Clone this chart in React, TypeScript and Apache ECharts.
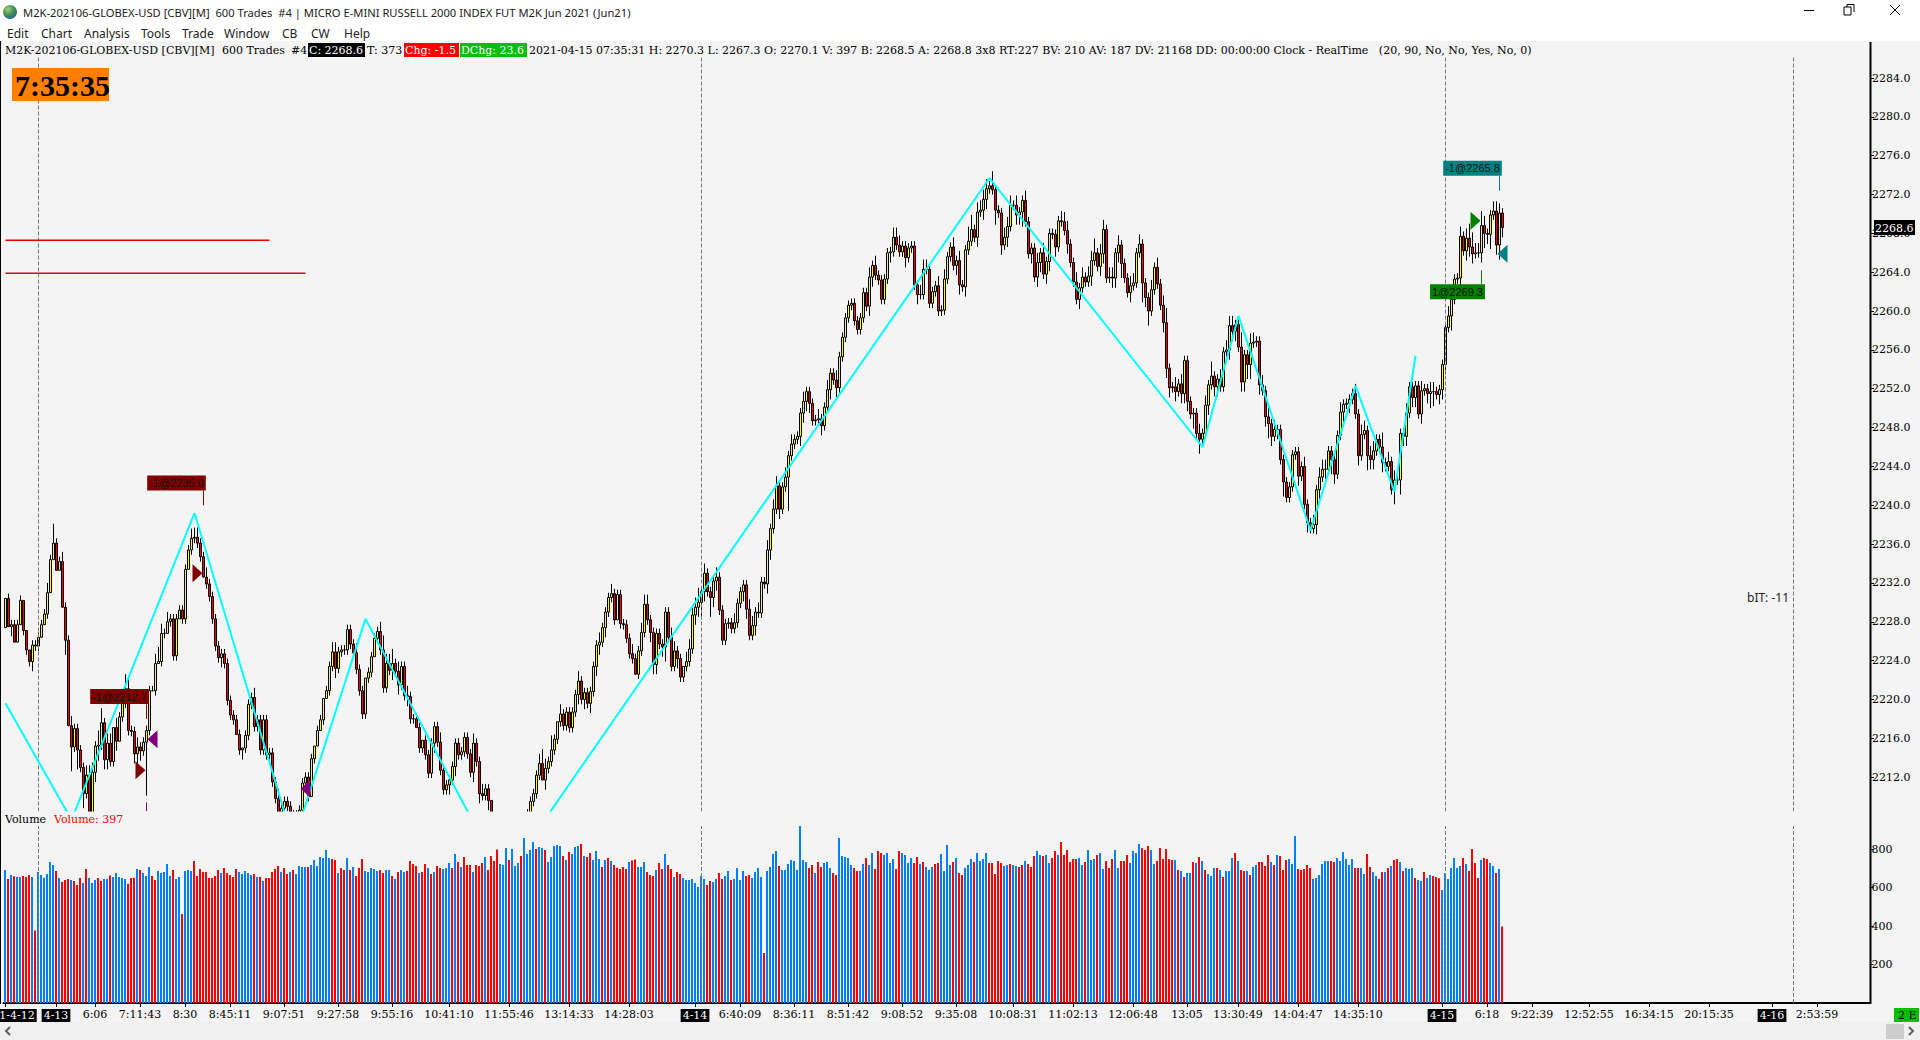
import React, { useEffect, useRef } from "react";
import * as echarts from "echarts";

const firstOpen = 2227.4;
const closes = [
2230.4,2227.5,2227.7,2225.9,2227.7,2230.2,2227.1,2225.1,2223.9,2225.6,
2225.5,2226.4,2227.7,2228.8,2231.0,2234.4,2236.1,2233.3,2234.2,2229.5,
2226.1,2217.3,2215.1,2217.0,2214.8,2213.0,2210.3,2212.2,2206.7,2212.5,
2215.2,2215.3,2217.6,2213.8,2215.5,2213.6,2217.1,2215.7,2218.2,2219.6,
2221.1,2216.8,2216.7,2214.4,2215.1,2214.7,2215.6,2216.8,2220.9,2220.9,
2223.7,2223.9,2226.8,2226.8,2228.0,2228.3,2224.5,2228.3,2229.2,2228.3,
2233.4,2235.4,2236.6,2236.7,2236.1,2234.7,2232.6,2231.9,2230.6,2228.3,
2225.5,2224.3,2224.7,2223.7,2219.9,2218.4,2217.9,2216.4,2214.8,2215.0,
2216.3,2219.5,2220.2,2217.2,2217.9,2214.8,2217.9,2214.3,2214.5,2211.5,
2209.8,2208.4,2208.8,2209.5,2209.0,2208.1,2207.4,2208.1,2208.6,2211.4,
2212.0,2210.0,2213.9,2215.2,2216.8,2217.9,2220.1,2220.9,2223.4,2224.9,
2223.2,2224.9,2225.1,2225.1,2227.2,2225.7,2224.8,2223.1,2220.9,2218.5,
2222.2,2222.8,2224.4,2226.3,2227.0,2225.1,2221.2,2223.7,2223.0,2223.7,
2222.9,2221.5,2223.4,2220.4,2220.3,2218.0,2218.0,2217.1,2215.0,2215.8,
2214.3,2212.4,2215.5,2217.2,2215.6,2212.7,2210.7,2211.2,2211.7,2213.1,
2215.5,2214.3,2214.6,2216.1,2214.4,2212.5,2215.5,2213.6,2210.3,2210.1,
2210.8,2209.6,2207.4,2206.5,2205.8,2205.0,2204.6,2205.0,2205.5,2206.2,
2206.6,2207.0,2207.2,2207.5,2208.2,2209.5,2210.3,2212.2,2213.4,2211.7,
2212.9,2213.6,2214.8,2215.9,2217.7,2218.5,2217.3,2218.7,2217.1,2218.7,
2220.5,2221.9,2220.0,2220.7,2219.6,2220.8,2223.4,2225.6,2225.9,2227.4,
2229.0,2230.5,2230.9,2228.2,2230.8,2227.8,2227.7,2226.3,2224.7,2224.2,
2222.6,2225.0,2226.9,2229.8,2228.2,2226.9,2223.6,2226.8,2225.7,2225.4,
2229.0,2226.4,2223.4,2225.0,2224.2,2222.3,2223.4,2223.9,2225.2,2228.7,
2229.5,2230.0,2231.1,2233.0,2231.1,2230.5,2232.2,2232.6,2229.2,2226.1,
2227.8,2227.9,2227.3,2227.9,2229.9,2231.1,2231.8,2229.3,2226.6,2227.6,
2229.0,2228.9,2232.1,2231.9,2235.4,2237.6,2239.6,2242.0,2239.6,2241.9,
2242.9,2245.1,2246.3,2246.8,2247.1,2249.5,2250.7,2251.7,2250.5,2248.7,
2248.8,2248.9,2248.2,2250.1,2251.9,2253.6,2252.9,2252.1,2255.3,2257.3,
2259.3,2260.6,2260.8,2259.0,2258.1,2259.3,2261.9,2260.5,2263.5,2264.7,
2263.7,2263.2,2261.2,2263.3,2266.0,2266.1,2267.6,2266.8,2266.1,2266.7,
2265.5,2266.5,2266.7,2262.7,2261.7,2261.7,2264.3,2264.3,2260.8,2262.0,
2262.6,2260.0,2260.1,2263.3,2265.6,2266.6,2264.7,2265.2,2262.7,2262.5,
2266.3,2267.2,2268.4,2267.6,2270.2,2270.4,2271.5,2272.6,2272.9,2272.5,
2270.4,2270.1,2266.8,2267.6,2268.7,2270.9,2270.9,2269.9,2270.2,2271.4,
2269.2,2265.9,2266.5,2263.5,2265.0,2266.0,2263.8,2265.1,2268.0,2267.9,
2266.6,2269.3,2269.2,2268.3,2266.9,2265.0,2263.0,2261.2,2262.4,2263.5,
2263.0,2263.6,2265.2,2266.0,2264.6,2265.9,2268.4,2263.4,2263.5,2263.4,
2266.0,2266.8,2264.9,2263.4,2261.9,2262.6,2262.9,2266.0,2266.9,2262.9,
2261.4,2260.0,2262.2,2264.5,2262.8,2260.6,2258.8,2254.1,2252.1,2252.2,
2251.7,2252.5,2251.5,2254.9,2250.7,2249.4,2249.5,2247.4,2246.8,2247.4,
2250.3,2252.4,2253.3,2252.2,2253.0,2252.2,2255.8,2256.0,2258.5,2257.9,
2258.6,2256.3,2252.7,2255.5,2254.5,2256.7,2256.8,2256.9,2252.4,2251.8,
2249.1,2248.4,2247.1,2247.8,2247.8,2244.7,2242.4,2240.8,2241.9,2245.2,
2245.5,2243.0,2244.0,2240.1,2238.2,2237.6,2238.0,2241.6,2242.9,2243.7,
2243.7,2245.6,2244.7,2243.2,2247.2,2249.6,2250.4,2250.5,2250.9,2251.5,
2249.4,2245.1,2247.3,2247.7,2245.1,2244.7,2245.6,2246.8,2246.0,2244.4,
2244.0,2244.5,2241.6,2242.6,2242.6,2247.4,2247.1,2249.5,2252.2,2251.1,
2252.3,2249.4,2251.8,2252.0,2251.5,2251.7,2251.7,2251.4,2251.9,2254.5,
2258.3,2259.5,2261.2,2263.3,2263.4,2267.7,2266.2,2267.5,2266.6,2265.9,
2266.0,2266.0,2268.8,2268.0,2267.9,2269.9,2270.3,2266.8,2270.1,2268.6,
];
// Wick lengths above and below the body, in half points.
const upperWicks = [
0,1,1,1,1,1,0,0,0,1, 1,1,1,1,2,1,4,1,1,2, 1,1,2,1,1,1,1,2,2,2, 1,3,3,1,2,2,0,2,1,2,
3,2,1,1,2,1,1,1,1,1, 2,3,2,1,2,1,1,1,1,1, 1,1,2,2,2,1,1,2,1,1, 1,1,1,1,1,1,1,1,1,0,
1,1,1,2,1,1,1,1,1,1, 1,2,1,1,1,1,1,1,1,1, 1,1,1,0,1,1,0,1,1,2, 2,1,1,1,1,1,1,2,1,1,
0,1,1,1,1,2,3,2,2,3, 1,2,1,1,2,1,1,1,1,0, 1,1,1,1,1,2,1,1,1,1, 1,1,1,1,1,1,2,1,1,2,
1,1,0,0,1,1,1,2,1,2, 1,1,1,1,1,1,1,1,2,3, 2,1,3,1,0,2,1,1,1,1, 1,2,1,1,1,1,1,1,2,1,
1,1,2,1,1,1,1,1,1,2, 1,1,2,2,2,1,1,1,1,1, 1,1,2,2,1,1,0,2,2,2, 2,3,1,2,1,1,1,2,1,1,
1,1,1,2,1,1,1,1,2,2, 1,2,1,1,2,1,2,2,1,1, 2,1,2,1,1,1,2,1,1,1, 1,2,1,1,2,1,1,2,1,1,
1,1,1,1,1,1,1,1,2,1, 2,1,1,1,1,1,2,2,2,1, 1,1,1,1,1,2,2,2,1,1, 1,2,1,2,1,1,2,1,2,1,
1,3,3,1,2,2,2,2,1,3, 1,1,1,2,2,2,1,2,1,1, 2,1,1,1,2,1,2,1,1,1, 1,1,2,2,2,1,1,2,1,2,
1,2,2,3,1,2,2,1,2,2, 1,2,1,1,1,2,2,1,2,1, 1,1,2,1,2,1,2,3,1,1, 2,1,2,1,1,1,1,1,2,1,
2,1,3,1,1,2,1,2,2,2, 1,1,3,1,1,2,2,1,1,2, 1,2,1,2,1,1,1,1,1,1, 1,1,1,2,1,1,2,1,2,2,
2,1,1,1,1,2,1,1,1,1, 2,1,2,2,1,2,2,1,1,3, 1,2,1,2,1,1,1,2,1,1, 1,1,2,1,1,2,2,1,1,1,
1,2,2,1,1,2,1,2,3,3, 2,2,3,2,1,1,2,2,2,1, 1,1,1,1,1,2,1,1,1,1, 2,2,3,1,3,2,3,3,2,2,
];
const lowerWicks = [
0,0,2,0,0,0,1,1,1,2, 1,1,0,0,1,0,0,0,0,0, 3,0,5,1,4,1,3,1,1,0, 2,3,1,2,2,1,1,2,0,1,
1,1,1,2,2,2,1,11,1,0, 1,0,1,1,0,1,1,1,0,1, 1,0,1,1,1,1,0,1,1,1, 1,1,2,1,1,1,1,0,1,2,
1,1,1,1,1,1,1,1,1,1, 1,1,1,1,1,1,1,1,1,1, 1,1,0,1,0,0,1,0,1,1, 2,1,1,1,1,1,1,1,1,1,
1,1,1,0,1,1,1,1,1,2, 1,2,1,1,2,1,1,0,1,1, 1,1,1,2,1,1,1,1,2,1, 2,1,1,1,1,1,2,1,2,1,
1,2,1,1,1,1,1,1,1,1, 1,1,1,1,1,1,1,1,1,0, 2,1,1,1,1,1,1,1,1,1, 1,2,1,2,1,2,1,2,2,1,
2,1,1,1,0,1,1,1,1,1, 0,1,1,1,1,2,2,2,1,2, 3,1,1,1,2,1,1,1,1,1, 2,2,3,2,1,4,2,2,1,1,
1,1,1,1,1,1,2,2,1,1, 2,1,1,1,2,2,1,1,2,1, 1,7,1,1,1,2,2,2,2,1, 1,1,2,1,1,2,1,2,1,1,
1,1,1,1,1,1,1,1,2,2, 1,1,1,1,1,2,1,1,1,1, 2,1,1,1,2,1,1,1,1,1, 1,1,1,1,1,1,1,2,2,1,
2,1,1,1,2,1,2,2,1,1, 3,1,2,1,2,1,1,2,2,3, 1,1,2,1,2,2,1,2,2,1, 2,1,1,1,2,1,1,1,2,1,
1,1,2,1,1,2,2,1,1,2, 2,2,3,1,1,2,1,1,1,4, 2,3,1,1,1,1,2,2,2,1, 2,1,2,2,2,1,3,1,3,1,
1,2,1,2,2,1,1,1,2,2, 2,1,2,2,3,3,1,1,2,1, 2,3,2,1,2,1,3,1,1,1, 1,2,1,1,2,1,1,2,2,1,
2,1,3,2,1,1,2,1,2,1, 1,2,1,1,3,2,2,1,1,2, 1,1,1,3,1,3,2,2,1,2, 2,1,2,1,2,3,3,1,2,2,
2,1,3,1,1,2,1,2,2,2, 1,1,2,3,2,3,1,2,3,2, 3,3,2,1,1,1,1,1,1,1, 2,2,2,1,3,3,2,3,3,3,
];
// Sign marks the bar's colour: positive blue, negative red.
const signedVolumes = [
691,-644,665,-658,655,655,-660,-655,-665,655,
-376,680,665,651,670,732,717,-686,649,-628,
-639,-644,639,-634,-613,-649,623,-696,649,623,
639,-649,-634,644,644,-663,655,675,655,649,
644,-620,-650,-651,696,-691,675,660,706,-660,
-639,686,675,680,722,660,-691,644,655,-462,
686,691,686,-738,-660,-696,-680,-680,-649,-649,
-660,-691,675,-701,-675,-665,-655,-696,680,670,
686,675,665,-670,655,-655,634,-649,-649,-680,
-696,-712,680,-701,-670,680,-691,670,712,706,
706,-706,717,743,712,758,753,795,753,-748,
-743,675,-701,-691,753,-691,706,-660,-701,-748,
686,680,701,696,686,-691,-675,691,691,-660,
644,-680,691,680,-686,-738,-722,-712,675,-680,
-722,701,-670,680,-712,-701,696,701,727,-701,
774,-732,706,-758,-717,-717,680,-717,-712,-727,
758,-691,-764,-738,-798,722,717,805,-743,800,
712,727,-764,857,774,795,836,-800,810,805,
-795,732,758,815,821,815,-764,743,-784,774,
810,815,-826,764,-758,-779,743,789,748,-706,
743,-753,738,-717,-701,-696,-706,-696,732,-740,
-745,706,706,732,-680,-665,-660,691,-727,-696,
774,-717,-696,655,-680,-670,649,639,639,644,
623,603,660,644,-613,-634,628,644,-675,-644,
660,686,-639,644,701,639,686,-660,-665,649,
680,701,655,-260,686,706,774,790,-712,691,
691,722,743,738,691,920,743,732,-701,-717,
675,-732,-706,727,732,701,-675,-665,857,764,
758,753,717,-701,-686,686,722,-753,717,779,
-696,-790,-779,769,779,727,748,-696,-790,779,
769,727,753,-727,-758,722,-732,706,691,706,
-722,-727,774,686,821,717,-732,753,-675,-665,
701,717,748,-732,779,738,748,779,-727,-727,
-670,-738,-727,712,717,-722,717,712,-706,-717,
738,-722,-706,-764,790,769,-764,769,727,-753,
-790,769,-836,-769,-795,-732,-748,-748,753,717,
-732,795,743,748,-769,779,696,-738,-701,-748,
795,701,-738,-738,-769,727,790,779,826,-805,
-795,-815,795,722,-738,-805,-748,-800,-748,-743,
743,-691,686,-655,675,675,-732,727,-758,738,
-691,670,660,701,-701,691,-655,686,686,753,
-779,738,-691,-686,686,-665,706,717,-732,-732,
-712,-769,732,-717,769,-764,-691,-743,748,722,
867,-696,-691,-696,-717,-701,644,649,665,722,
738,738,-738,-732,753,738,784,748,717,748,
-701,-701,701,670,-774,-706,680,660,-644,-680,
680,-701,712,-743,-748,732,-686,701,696,701,
-649,639,634,-680,649,665,-660,-655,-648,587,
675,644,701,753,701,712,-753,722,-686,-800,
-727,-649,743,-753,-748,727,712,-675,696,-397,
];
const zigzagIndex = [0, 22, 63, 96, 120, 166, 328, 399, 411, 435, 450, 463, 470];
const zigzagPrice = [2219.6, 2207.6, 2239.2, 2205.3, 2228.3, 2201.5, 2273.7, 2246.0, 2259.5, 2237.4, 2252.3, 2241.4, 2255.4];
const xTickIndex = [0,17,30,45,60,75,93,111,129,148,168,188,208,230,245,263,281,299,317,336,356,376,394,411,431,451,479,494,509,528,548,568,589,604];
const xLabelIndex = [4,17,30,45,60,75,93,111,129,148,168,188,208,230,245,263,281,299,317,336,356,376,394,411,431,451,479,494,509,528,548,568,589,604];
const xLabelText = ["1-4-12","4-13","6:06","7:11:43","8:30","8:45:11","9:07:51","9:27:58","9:55:16","10:41:10","11:55:46","13:14:33","14:28:03","4-14","6:40:09","8:36:11","8:51:42","9:08:52","9:35:08","10:08:31","11:02:13","12:06:48","13:05","13:30:49","14:04:47","14:35:10","4-15","6:18","9:22:39","12:52:55","16:34:15","20:15:35","4-16","2:53:59"];
const dateLabels = ["1-4-12","4-13","4-14","4-15","4-16"];
const priceTicks = [2212,2216,2220,2224,2228,2232,2236,2240,2244,2248,2252,2256,2260,2264,2268,2272,2276,2280,2284];
const volumeTicks = [200,400,600,800];
const sessionBreaks = [11, 232, 480, 596];
const levelLines = [{ to: 88, price: 2267.3 }, { to: 100, price: 2263.9 }];
const tradeBoxes = [
  { text: "-1@2265.8", index: 489, price: 2274.7, color: "#008080" },
  { text: "1@2269.3", index: 484, price: 2262.0, color: "#008000" },
  { text: "-1@2212.7", index: 38, price: 2220.3, color: "#800000" },
  { text: "-1@2235.0", index: 57, price: 2242.3, color: "#800000" },
];
const tradeStems = [
  { index: 498, from: 2273.9, to: 2272.4, color: "#008080" },
  { index: 492, from: 2264.2, to: 2262.8, color: "#008000" },
  { index: 47, from: 2219.5, to: 2218.0, color: "#800000" },
  { index: 66, from: 2241.5, to: 2240.0, color: "#800000" },
  { index: 47, from: 2209.4, to: 2208.5, color: "#800080" },
];
const rightMarks = [
  { index: 490, price: 2269.3, color: "#008000" },
  { index: 45, price: 2212.7, color: "#800000" },
  { index: 64, price: 2233.0, color: "#800000" },
];
const leftMarks = [
  { index: 499, price: 2265.9, color: "#008080" },
  { index: 49, price: 2215.9, color: "#800080" },
  { index: 100, price: 2210.8, color: "#800080" },
];
const menuItems: [string, number][] = [["Edit",7],["Chart",41],["Analysis",84],["Tools",141],["Trade",182],["Window",224],["CB",282],["CW",311],["Help",344]];

const SERIF = "'DejaVu Serif'";
const UI = "'Noto Sans'";
const BG = "#f4f4f4";
const PRICE_MIN = 2208.46;
const PRICE_MAX = 2286.27;
const PRICE_FLOOR = 2207.2;

function txt(x: number, y: number, text: string, fill = "#000", font = SERIF, size = 11, extra: any = {}) {
  return { type: "text", x, y, z: 60, silent: true, style: { text, fill, font: `${extra.weight || ""} ${size}px ${font}`, textVerticalAlign: "middle", textAlign: extra.align || "left" } };
}
function box(x: number, y: number, w: number, h: number, fill: string, z = 55) {
  return { type: "rect", z, silent: true, shape: { x, y, width: w, height: h }, style: { fill } };
}
function seg(x1: number, y1: number, x2: number, y2: number, stroke = "#000", lineWidth = 1) {
  return { type: "line", z: 60, silent: true, shape: { x1, y1, x2, y2 }, style: { stroke, lineWidth } };
}
function chevron(points: number[][]) {
  return { type: "polyline", z: 60, silent: true, shape: { points }, style: { stroke: "#606060", lineWidth: 2, fill: "none" } };
}

export default function App() {
  const ref = useRef<HTMLDivElement>(null);
  useEffect(() => {
    document.body.style.margin = "0";
    const chart = echarts.init(ref.current!, undefined, { renderer: "svg" });
    const n = 622;
    const cats = Array.from({ length: n }, (_, i) => {
      const k = xLabelIndex.indexOf(i);
      return k >= 0 ? xLabelText[k] : "";
    });
    const candles = closes.map((c, i) => {
      const o = i === 0 ? firstOpen : closes[i - 1];
      const h = Math.max(o, c) + upperWicks[i] * 0.5;
      const l = Math.min(o, c) - lowerWicks[i] * 0.5;
      if (h < PRICE_MIN) return ["-", "-", "-", "-"];
      return [Math.max(o, PRICE_FLOOR), Math.max(c, PRICE_FLOOR), Math.max(l, PRICE_FLOOR), h];
    });
    const volumeData = signedVolumes.map((v) => ({
      value: Math.abs(v),
      itemStyle: { color: v < 0 ? "#ff0000" : "#0080ff" },
    }));
    const breakLines = {
      silent: true,
      symbol: "none",
      label: { show: false },
      lineStyle: { color: "#777", type: "dashed", width: 1 },
      data: sessionBreaks.map((b) => ({ xAxis: b })),
    };
    const graphics: any[] = [
      box(0, 0, 1920, 41, "#ffffff", -1),
      box(0, 1022, 1920, 18, "#f0f0f0", -1),
      box(1886, 1024, 18, 15, "#cdcdcd"),
      box(2, 811.5, 1867, 14.5, BG, 40),
      { type: "circle", z: 60, silent: true, shape: { cx: 10, cy: 12, r: 7 }, style: { fill: new echarts.graphic.RadialGradient(0.35, 0.3, 0.8, [{ offset: 0, color: "#9fd07a" }, { offset: 0.55, color: "#3f8f55" }, { offset: 1, color: "#2a5f9e" }]) } },
      txt(23, 12, "M2K-202106-GLOBEX-USD [CBV][M]  600 Trades  #4 | MICRO E-MINI RUSSELL 2000 INDEX FUT M2K Jun 2021 (Jun21)", "#222", UI, 11.2),
      ...menuItems.map(([t, x]) => txt(x, 33, t, "#222", UI, 12)),
      seg(1804, 10.5, 1814, 10.5, "#000"),
      { type: "rect", z: 60, silent: true, shape: { x: 1844, y: 7, width: 7, height: 8 }, style: { fill: "none", stroke: "#000", lineWidth: 1 } },
      seg(1847, 7, 1847, 4.5, "#000"), seg(1847, 4.5, 1854, 4.5, "#000"), seg(1854, 4.5, 1854, 12, "#000"),
      seg(1890, 5, 1900, 15, "#000"), seg(1900, 5, 1890, 15, "#000"),
      txt(5, 50, "M2K-202106-GLOBEX-USD [CBV][M]"),
      txt(222, 50, "600 Trades"),
      txt(291, 50, "#4"),
      box(308, 43, 57, 14, "#000000"),
      txt(309, 50, "C: 2268.6", "#fff"),
      txt(367, 50, "T: 373"),
      box(404, 43, 55, 14, "#ff0000"),
      txt(405, 50, "Chg: -1.5", "#fff"),
      box(460, 43, 67, 14, "#00c000"),
      txt(461, 50, "DChg: 23.6", "#fff"),
      txt(529, 50, "2021-04-15 07:35:31 H: 2270.3 L: 2267.3 O: 2270.1 V: 397 B: 2268.5 A: 2268.8 3x8 RT:227 BV: 210 AV: 187 DV: 21168 DD: 00:00:00 Clock - RealTime   (20, 90, No, No, Yes, No, 0)"),
      box(12, 68, 97, 33, "#ff8000"),
      txt(15, 85, "7:35:35", "#000", "'Liberation Serif'", 30, { weight: "bold" }),
      txt(5, 819, "Volume"),
      txt(54, 819, "Volume: 397", "#ff0000"),
      txt(1747, 597, "bIT: -11", "#222", UI, 12),
      box(1874, 220, 41, 15, "#000000"),
      txt(1875, 228, "2268.6", "#fff"),
      box(1894, 1008, 25, 14, "#00c000"),
      txt(1898, 1015, "2 E", "#000"),
      chevron([[10, 1027], [6, 1031], [10, 1035]]),
      chevron([[1909, 1027], [1913, 1031], [1909, 1035]]),
      seg(1870.5, 42, 1870.5, 1004, "#000", 2),
      seg(0.5, 41, 0.5, 1004, "#000", 1),
    ];
    chart.setOption({
      animation: false,
      backgroundColor: BG,
      textStyle: { fontFamily: SERIF },
      graphic: { elements: graphics },
      grid: [
        { left: 4, width: 1866, top: 56, height: 755.5, outerBoundsMode: "none" },
        { left: 3.5, width: 1866, top: 826, height: 177, outerBoundsMode: "none" },
      ],
      xAxis: [
        { type: "category", gridIndex: 0, data: cats, boundaryGap: true, axisLine: { show: false }, axisTick: { show: false }, axisLabel: { show: false }, splitLine: { show: false } },
        {
          type: "category", gridIndex: 1, data: cats, boundaryGap: true,
          axisLine: { show: true, lineStyle: { color: "#000", width: 2 } },
          axisTick: { show: true, alignWithLabel: true, length: 4, lineStyle: { color: "#000" }, interval: (i: number) => xTickIndex.includes(i) },
          axisLabel: {
            show: true, margin: 6, color: "#000", fontFamily: SERIF, fontSize: 11,
            interval: (i: number) => xLabelIndex.includes(i),
            formatter: (v: string) => (dateLabels.includes(v) ? `{d|${v}}` : v),
            rich: { d: { backgroundColor: "#000", color: "#fff", fontFamily: SERIF, fontSize: 11, padding: [1, 2, 1, 2] } },
          },
          splitLine: { show: false },
        },
      ],
      yAxis: [
        {
          type: "value", gridIndex: 0, position: "right", min: PRICE_MIN, max: PRICE_MAX, scale: true,
          axisLine: { show: false },
          axisTick: { show: true, length: 4, lineStyle: { color: "#000" }, customValues: priceTicks },
          axisLabel: { show: true, margin: 2, color: "#000", fontFamily: SERIF, fontSize: 11, customValues: priceTicks, formatter: (v: number) => v.toFixed(1) },
          splitLine: { show: false },
        },
        {
          type: "value", gridIndex: 1, position: "right", min: 0, max: 919.5,
          axisLine: { show: false },
          axisTick: { show: true, length: 4, lineStyle: { color: "#000" }, customValues: volumeTicks },
          axisLabel: { show: true, margin: 2, color: "#000", fontFamily: SERIF, fontSize: 11, customValues: volumeTicks },
          splitLine: { show: false },
        },
      ],
      series: [
        {
          name: "Price", type: "candlestick", xAxisIndex: 0, yAxisIndex: 0, data: candles, barWidth: 2, clip: true, z: 3,
          itemStyle: { color: "#ffff00", color0: "#ff0000", borderColor: "#000", borderColor0: "#000", borderWidth: 1 },
          markLine: breakLines,
        },
        {
          name: "Zigzag", type: "line", xAxisIndex: 0, yAxisIndex: 0, showSymbol: false, symbol: "none", clip: true, z: 5,
          data: zigzagIndex.map((x, i) => [x, zigzagPrice[i]]),
          lineStyle: { color: "#00ffff", width: 2 },
        },
        ...levelLines.map((l) => ({
          type: "line", xAxisIndex: 0, yAxisIndex: 0, showSymbol: false, symbol: "none", z: 5,
          data: [[0, l.price], [l.to, l.price]],
          lineStyle: { color: "#e00000", width: 1.5 },
        })),
        {
          name: "Stems", type: "custom", xAxisIndex: 0, yAxisIndex: 0, z: 6, clip: true,
          data: tradeStems.map((s) => [s.index, s.from, s.to]),
          encode: { x: 0, y: [1, 2] },
          renderItem: (params: any, api: any) => {
            const a = api.coord([api.value(0), api.value(1)]);
            const b = api.coord([api.value(0), api.value(2)]);
            return { type: "line", shape: { x1: a[0], y1: a[1], x2: b[0], y2: b[1] }, style: { stroke: tradeStems[params.dataIndex].color, lineWidth: 1 } };
          },
        },
        {
          name: "Right marks", type: "scatter", xAxisIndex: 0, yAxisIndex: 0, z: 7,
          symbol: "path://M0,0L10,9L0,18Z", symbolSize: [10, 18],
          data: rightMarks.map((m) => ({ value: [m.index, m.price], itemStyle: { color: m.color, opacity: 1 } })),
        },
        {
          name: "Left marks", type: "scatter", xAxisIndex: 0, yAxisIndex: 0, z: 7,
          symbol: "path://M10,0L0,9L10,18Z", symbolSize: [10, 18],
          data: leftMarks.map((m) => ({ value: [m.index, m.price], itemStyle: { color: m.color, opacity: 1 } })),
        },
        {
          name: "Trade boxes", type: "scatter", xAxisIndex: 0, yAxisIndex: 0, z: 8, symbolSize: 1,
          itemStyle: { opacity: 1 },
          data: tradeBoxes.map((b) => ({
            value: [b.index, b.price],
            itemStyle: { color: b.color, opacity: 1 },
            label: { show: true, position: "inside", formatter: b.text, color: "#111", opacity: 1, fontFamily: "'Liberation Sans'", fontSize: 11, backgroundColor: b.color, padding: [0, 2, 0, 2], lineHeight: 15 },
          })),
        },
        {
          name: "Volume", type: "bar", xAxisIndex: 1, yAxisIndex: 1, data: volumeData, barWidth: 2, z: 3,
          markLine: breakLines,
        },
      ],
    } as any);
    return () => chart.dispose();
  }, []);
  return <div ref={ref} style={{ position: "absolute", left: 0, top: 0, width: 1920, height: 1040 }} />;
}
